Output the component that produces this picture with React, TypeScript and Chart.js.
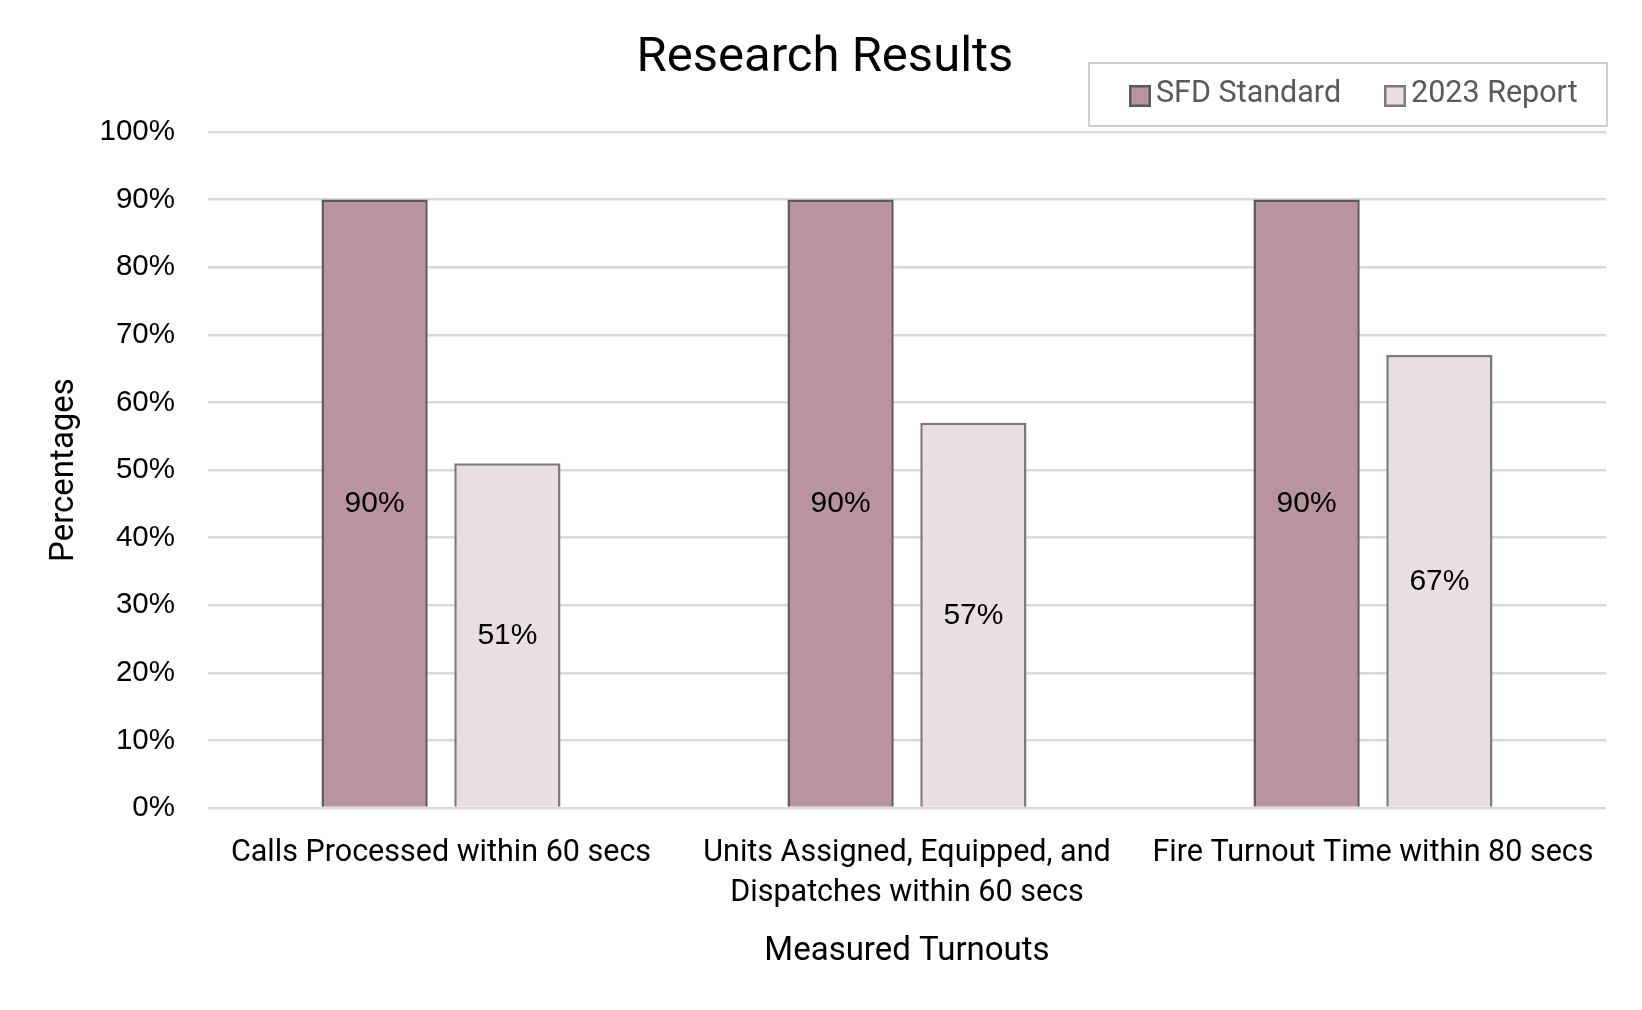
import React, { useEffect, useRef } from "react";
import { Chart, registerables } from "chart.js";

Chart.register(...registerables);

const categories: (string | string[])[] = [
  "Calls Processed within 60 secs",
  ["Units Assigned, Equipped, and", "Dispatches within 60 secs"],
  "Fire Turnout Time within 80 secs",
];
const seriesNames = ["SFD Standard", "2023 Report"];
const sfdStandard = [90, 90, 90];
const report2023 = [51, 57, 67];
const titleText = "Research Results";
const yAxisTitle = "Percentages";
const xAxisTitle = "Measured Turnouts";

const SANS = "Roboto, 'Noto Sans', sans-serif";
const ARIAL = "'Liberation Sans', Arial, sans-serif";

const labelsPlugin = {
  id: "barLabels",
  afterDatasetsDraw(chart: any) {
    const ctx = chart.ctx;
    ctx.save();
    ctx.font = `30px ${ARIAL}`;
    ctx.fillStyle = "#000";
    ctx.textAlign = "center";
    ctx.textBaseline = "middle";
    chart.data.datasets.forEach((ds: any, i: number) => {
      const meta = chart.getDatasetMeta(i);
      meta.data.forEach((el: any, j: number) => {
        const y = (el.y + el.base) / 2;
        ctx.fillText(ds.data[j] + "%", el.x, y + 1);
      });
    });
    ctx.restore();
  },
};

const decorPlugin = {
  id: "decor",
  afterDraw(chart: any) {
    const ctx = chart.ctx;
    ctx.save();
    // title
    ctx.font = `49px ${SANS}`;
    ctx.fillStyle = "#000";
    ctx.textAlign = "center";
    ctx.textBaseline = "alphabetic";
    ctx.fillText(titleText, 825, 71);
    // legend box
    const bx = 1089, by = 63, bw = 518, bh = 63;
    ctx.fillStyle = "#fff";
    ctx.fillRect(bx, by, bw, bh);
    ctx.strokeStyle = "#cfcfcf";
    ctx.lineWidth = 2;
    ctx.strokeRect(bx, by, bw, bh);
    const itemX = [1129, 1384];
    ctx.font = `30.5px ${SANS}`;
    ctx.textAlign = "left";
    chart.data.datasets.forEach((ds: any, i: number) => {
      const x = itemX[i];
      ctx.fillStyle = ds.backgroundColor;
      ctx.fillRect(x, 85, 22, 22);
      ctx.strokeStyle = ds.borderColor;
      ctx.lineWidth = 2.5;
      ctx.strokeRect(x + 1.25, 86.25, 19.5, 19.5);
      ctx.fillStyle = "#595959";
      ctx.fillText(ds.label, x + 27, 102);
    });
    ctx.restore();
  },
};

export default function App() {
  const ref = useRef<HTMLCanvasElement | null>(null);
  useEffect(() => {
    if (!ref.current) return;
    const chart = new Chart(ref.current, {
      type: "bar",
      data: {
        labels: categories,
        datasets: [
          {
            label: seriesNames[0],
            data: sfdStandard,
            backgroundColor: "#B9949F",
            borderColor: "#5a5a5a",
            borderWidth: 2.5,
            categoryPercentage: 0.57,
            barPercentage: 0.8,
          },
          {
            label: seriesNames[1],
            data: report2023,
            backgroundColor: "#E9DEE2",
            borderColor: "#7a7a7a",
            borderWidth: 2.5,
            categoryPercentage: 0.57,
            barPercentage: 0.8,
          },
        ],
      },
      options: {
        animation: false,
        responsive: true,
        maintainAspectRatio: false,
        layout: { padding: { top: 132, right: 36, left: 0, bottom: 0 } },
        plugins: {
          legend: { display: false },
          title: { display: false },
          tooltip: { enabled: false },
        },
        scales: {
          x: {
            grid: { display: false },
            border: { display: false },
            ticks: {
              color: "#000",
              font: { family: SANS, size: 30.5, lineHeight: 1.31 },
              padding: 17,
              maxRotation: 0,
              autoSkip: false,
            },
            title: {
              display: true,
              text: xAxisTitle,
              color: "#000",
              font: { family: SANS, size: 33, lineHeight: 1.2 },
              padding: { top: 0, bottom: 38 },
            },
            afterFit(scale: any) {
              scale.height = 202;
            },
          },
          y: {
            min: 0,
            max: 100,
            ticks: {
              stepSize: 10,
              color: "#000",
              font: { family: ARIAL, size: 29.5 },
              padding: 33,
              callback: (v: any) => v + "%",
            },
            grid: { color: "#d9d9d9", lineWidth: 2.5, drawTicks: false },
            border: { display: false },
            title: {
              display: true,
              text: yAxisTitle,
              color: "#000",
              font: { family: SANS, size: 33, lineHeight: 1.2 },
              padding: { top: 45, bottom: 0 },
            },
            afterFit(scale: any) {
              scale.width = 208;
            },
          },
        },
      },
      plugins: [labelsPlugin, decorPlugin],
    });
    return () => chart.destroy();
  }, []);
  return (
    <div style={{ position: "fixed", left: 0, top: 0, width: 1642, height: 1010, background: "#fff" }}>
      <canvas ref={ref} style={{ width: "100%", height: "100%" }} />
    </div>
  );
}
